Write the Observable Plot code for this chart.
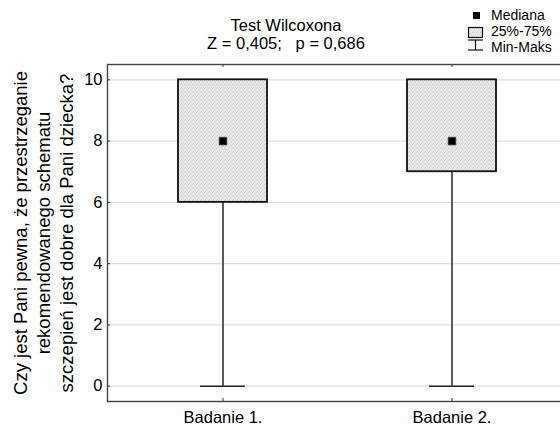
<!DOCTYPE html>
<html><head><meta charset="utf-8">
<script src="https://cdn.jsdelivr.net/npm/d3@7"></script>
<script src="https://cdn.jsdelivr.net/npm/@observablehq/plot@0.6"></script>
<style>
body{margin:0;background:#fff;}
svg text{white-space:pre;}
</style>
</head><body><div id="chart"></div>
<script>
const categories = ["Badanie 1.", "Badanie 2."];
const minValues = [0, 0];
const q1Values = [6, 7];
const medianValues = [8, 8];
const q3Values = [10, 10];
const maxValues = [10, 10];
const yTicks = [0, 2, 4, 6, 8, 10];
const titleText = "Test Wilcoxona";
const subtitleText = "Z = 0,405;   p = 0,686";
const yLabel = "Czy jest Pani pewna, że przestrzeganie\nrekomendowanego schematu\nszczepień jest dobre dla Pani dziecka?";
const legendLabels = ["Mediana", "25%-75%", "Min-Maks"];

const data = categories.map((c, i) => ({
  cat: c, min: minValues[i], q1: q1Values[i], median: medianValues[i], q3: q3Values[i], max: maxValues[i]
}));

const font = "'Liberation Sans', Arial, Helvetica, sans-serif";
const W = 560, H = 430, mL = 107, mT = 64, mB = 29, mR = 0;
const innerH = H - mT - mB, innerW = W - mL - mR;

const chart = Plot.plot({
  width: W, height: H,
  marginLeft: mL, marginRight: mR, marginTop: mT, marginBottom: mB,
  style: {fontFamily: font, fontSize: "16.5px", color: "#000", background: "#fff"},
  x: {type: "band", domain: categories, range: [mL, 566], padding: 0, label: null},
  y: {domain: [-0.5, 10.5], label: null},
  marks: [
    Plot.ruleY(yTicks, {stroke: "#dedede", strokeWidth: 1.2}),
    Plot.ruleY(yTicks, {insetRight: innerW - 3, stroke: "#333"}),
    Plot.ruleX(categories, {x: d => d, insetTop: innerH - 3, stroke: "#333"}),
    Plot.ruleX(categories, {x: d => d, insetBottom: innerH - 3, stroke: "#333"}),
    Plot.ruleX(data, {x: "cat", y1: "min", y2: "max", stroke: "#333", strokeWidth: 1.6}),
    Plot.tickY(data, {x: "cat", y: "min", insetLeft: 92, insetRight: 92, stroke: "#222", strokeWidth: 1.6}),
    Plot.tickY(data, {x: "cat", y: "max", insetLeft: 92, insetRight: 92, stroke: "#555", strokeWidth: 1.6}),
    Plot.barY(data, {x: "cat", y1: "q1", y2: "q3", insetLeft: 70, insetRight: 70, fill: "url(#stipple)", stroke: "#111", strokeWidth: 1.8}),
    Plot.dot(data, {x: "cat", y: "median", symbol: "square", r: 4.3, fill: "#000", stroke: "#444", strokeWidth: 0.8}),
    Plot.frame({stroke: "#444", strokeWidth: 1.4, insetRight: -3}),
    Plot.axisY(yTicks, {tickSize: 0, tickPadding: 5, fontSize: 16.5, label: null}),
    Plot.axisX({tickSize: 0, tickPadding: 10, fontSize: 16.5, label: null}),
    Plot.text([titleText], {frameAnchor: "top", dx: -48, dy: -39, lineAnchor: "middle", fontSize: 16.5, fill: "#000"}),
    Plot.text([subtitleText], {frameAnchor: "top", dx: -48, dy: -21, lineAnchor: "middle", fontSize: 16.5, fill: "#000"}),
    Plot.text([yLabel], {frameAnchor: "left", textAnchor: "middle", rotate: -90, dx: -64.5, lineAnchor: "middle", fontSize: 18.5, lineHeight: 1.24, fill: "#000"})
  ]
});

const svg = d3.select(chart);
const defs = svg.insert("defs", ":first-child");
const pat = defs.append("pattern").attr("id", "stipple").attr("patternUnits", "userSpaceOnUse")
  .attr("width", 4).attr("height", 4);
pat.append("rect").attr("width", 4).attr("height", 4).attr("fill", "#e4e4e4");
[[0,0,"#cfcfcf"],[2,1,"#d6d6d6"],[1,3,"#d2d2d2"],[3,2,"#d9d9d9"],[1,1,"#eeeeee"],[3,0,"#ececec"],[0,2,"#efefef"],[2,3,"#ebebeb"]]
  .forEach(([x, y, c]) => pat.append("rect").attr("x", x).attr("y", y).attr("width", 1).attr("height", 1).attr("fill", c));

const lg = svg.append("g");
// median symbol
lg.append("rect").attr("x", 473).attr("y", 12).attr("width", 7).attr("height", 7).attr("fill", "#000");
// box symbol
lg.append("rect").attr("x", 468.5).attr("y", 27.5).attr("width", 14).attr("height", 10)
  .attr("fill", "url(#stipple)").attr("stroke", "#111").attr("stroke-width", 1.2);
// whisker symbol
lg.append("line").attr("x1", 468).attr("x2", 483).attr("y1", 40).attr("y2", 40).attr("stroke", "#111").attr("stroke-width", 1.2);
lg.append("line").attr("x1", 468).attr("x2", 483).attr("y1", 50).attr("y2", 50).attr("stroke", "#111").attr("stroke-width", 1.2);
lg.append("line").attr("x1", 475.5).attr("x2", 475.5).attr("y1", 40).attr("y2", 50).attr("stroke", "#111").attr("stroke-width", 1.2);
lg.selectAll("text.lbl").data(legendLabels).join("text").attr("class", "lbl")
  .attr("x", 491).attr("y", (d, i) => 20 + i * 16)
  .attr("fill", "#000")
  .style("font-family", font).style("font-size", "14px").style("text-anchor", "start")
  .text(d => d);

document.getElementById("chart").appendChild(chart);
</script>
</body></html>
